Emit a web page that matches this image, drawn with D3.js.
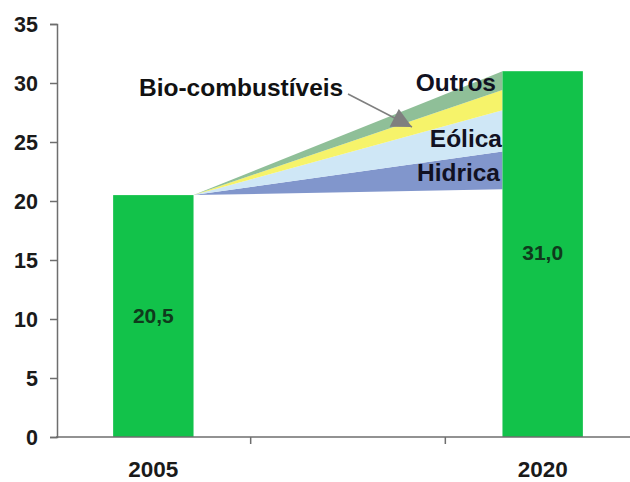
<!DOCTYPE html>
<html>
<head>
<meta charset="utf-8">
<script src="https://cdn.jsdelivr.net/npm/d3@7"></script>
<style>
  html, body { margin: 0; padding: 0; background: #fff; }
  svg { display: block; }
  text { font-family: "Liberation Sans", Arial, sans-serif; font-weight: bold; }
</style>
</head>
<body>
<svg id="chart" width="630" height="482"></svg>
<script>
// Categories along the x axis (the middle slot is an empty gap)
const categories = ["2005", "", "2020"];
// Total renewable share per year (%)
const years = ["2005", "2020"];
const totals = [20.5, 31.0];
const totalLabels = ["20,5", "31,0"];
// Growth wedges: lower and upper bounds of each source at the 2020 end
const sources = ["Hidrica", "Eólica", "Outros", "Bio-combustíveis"];
const sourceLow = [21.0, 24.2, 27.7, 29.4];
const sourceHigh = [24.2, 27.7, 29.4, 31.0];
const sourceColors = ["#8196cc", "#cfe7f6", "#f6f36a", "#8fbf98"];
// Y axis ticks
const yTicks = [0, 5, 10, 15, 20, 25, 30, 35];

const svg = d3.select("#chart");

const x = d3.scaleBand().domain(categories).range([56, 640]).paddingInner(0).paddingOuter(0);
const y = d3.scaleLinear().domain([0, 35]).range([437, 24]);
const barW = x.step() * 0.413;
const cx = c => x(c) + x.bandwidth() / 2;

// Growth wedges fanning out from the top of the 2005 bar to the 2020 bar
const x0 = cx(years[0]) + barW / 2;
const x1 = cx(years[1]) - barW / 2;
const line = d3.line();
svg.append("g").selectAll("path")
  .data(sources)
  .join("path")
  .attr("d", (s, i) => line([[x0, y(totals[0])], [x1, y(sourceLow[i])], [x1, y(sourceHigh[i])]]) + "Z")
  .attr("fill", (s, i) => sourceColors[i]);

// Bars
svg.append("g").selectAll("rect")
  .data(years)
  .join("rect")
  .attr("x", d => cx(d) - barW / 2)
  .attr("width", barW)
  .attr("y", (d, i) => y(totals[i]))
  .attr("height", (d, i) => y(0) - y(totals[i]))
  .attr("fill", "#12c24a");

// Value labels inside bars
svg.append("g").selectAll("text")
  .data(years)
  .join("text")
  .attr("x", d => cx(d))
  .attr("y", (d, i) => i === 0 ? 323 : 260)
  .attr("text-anchor", "middle")
  .attr("font-size", 21)
  .attr("fill", "#0f3a1c")
  .text((d, i) => totalLabels[i]);

// Y axis
const yAxis = svg.append("g")
  .attr("transform", `translate(${x.range()[0] + 1},0)`)
  .call(d3.axisLeft(y).tickValues(yTicks).tickSize(7).tickPadding(12));
yAxis.select(".domain").attr("stroke", "#6e6e6e").attr("stroke-width", 1.5);
yAxis.selectAll(".tick line").attr("stroke", "#6e6e6e").attr("stroke-width", 1.5);
yAxis.selectAll(".tick text")
  .attr("font-size", 21.5).attr("font-family", "Liberation Sans, Arial, sans-serif")
  .attr("font-weight", "bold").attr("fill", "#1a1a1a").attr("dy", "0.35em");

// X axis: baseline, boundary ticks between categories, year labels
const xAxis = svg.append("g");
xAxis.append("line")
  .attr("x1", x.range()[0]).attr("x2", 630)
  .attr("y1", y(0)).attr("y2", y(0))
  .attr("stroke", "#6e6e6e").attr("stroke-width", 1.5);
xAxis.selectAll("line.b")
  .data(categories.slice(1))
  .join("line")
  .attr("class", "b")
  .attr("x1", d => x(d)).attr("x2", d => x(d))
  .attr("y1", y(0)).attr("y2", y(0) + 7)
  .attr("stroke", "#6e6e6e").attr("stroke-width", 1.5);
xAxis.selectAll("text")
  .data(years)
  .join("text")
  .attr("x", d => cx(d))
  .attr("y", 477)
  .attr("text-anchor", "middle")
  .attr("font-size", 22.5)
  .attr("fill", "#1a1a1a")
  .text(d => d);

// Source labels at the right end of the wedges
const labelPos = { "Hidrica": [500, 181], "Eólica": [502, 147], "Outros": [496, 91] };
svg.append("g").selectAll("text")
  .data(sources.filter(s => labelPos[s]))
  .join("text")
  .attr("x", d => labelPos[d][0])
  .attr("y", d => labelPos[d][1])
  .attr("text-anchor", "end")
  .attr("font-size", 24.5)
  .attr("fill", "#111122")
  .text(d => d);

// Bio-combustíveis callout with arrow
svg.append("defs").append("marker")
  .attr("id", "arrow")
  .attr("viewBox", "0 0 10 10")
  .attr("refX", 10).attr("refY", 5)
  .attr("markerUnits", "userSpaceOnUse")
  .attr("markerWidth", 22).attr("markerHeight", 20)
  .attr("orient", "auto")
  .append("path")
  .attr("d", "M0,0L10,5L0,10Z")
  .attr("fill", "#7f7f7f");
svg.append("line")
  .attr("x1", 348).attr("y1", 94)
  .attr("x2", 412).attr("y2", 127)
  .attr("stroke", "#7f7f7f").attr("stroke-width", 1.5)
  .attr("marker-end", "url(#arrow)");
svg.append("text")
  .attr("x", 139).attr("y", 96)
  .attr("font-size", 24.5)
  .attr("fill", "#111")
  .text(sources[3]);
</script>
</body>
</html>
